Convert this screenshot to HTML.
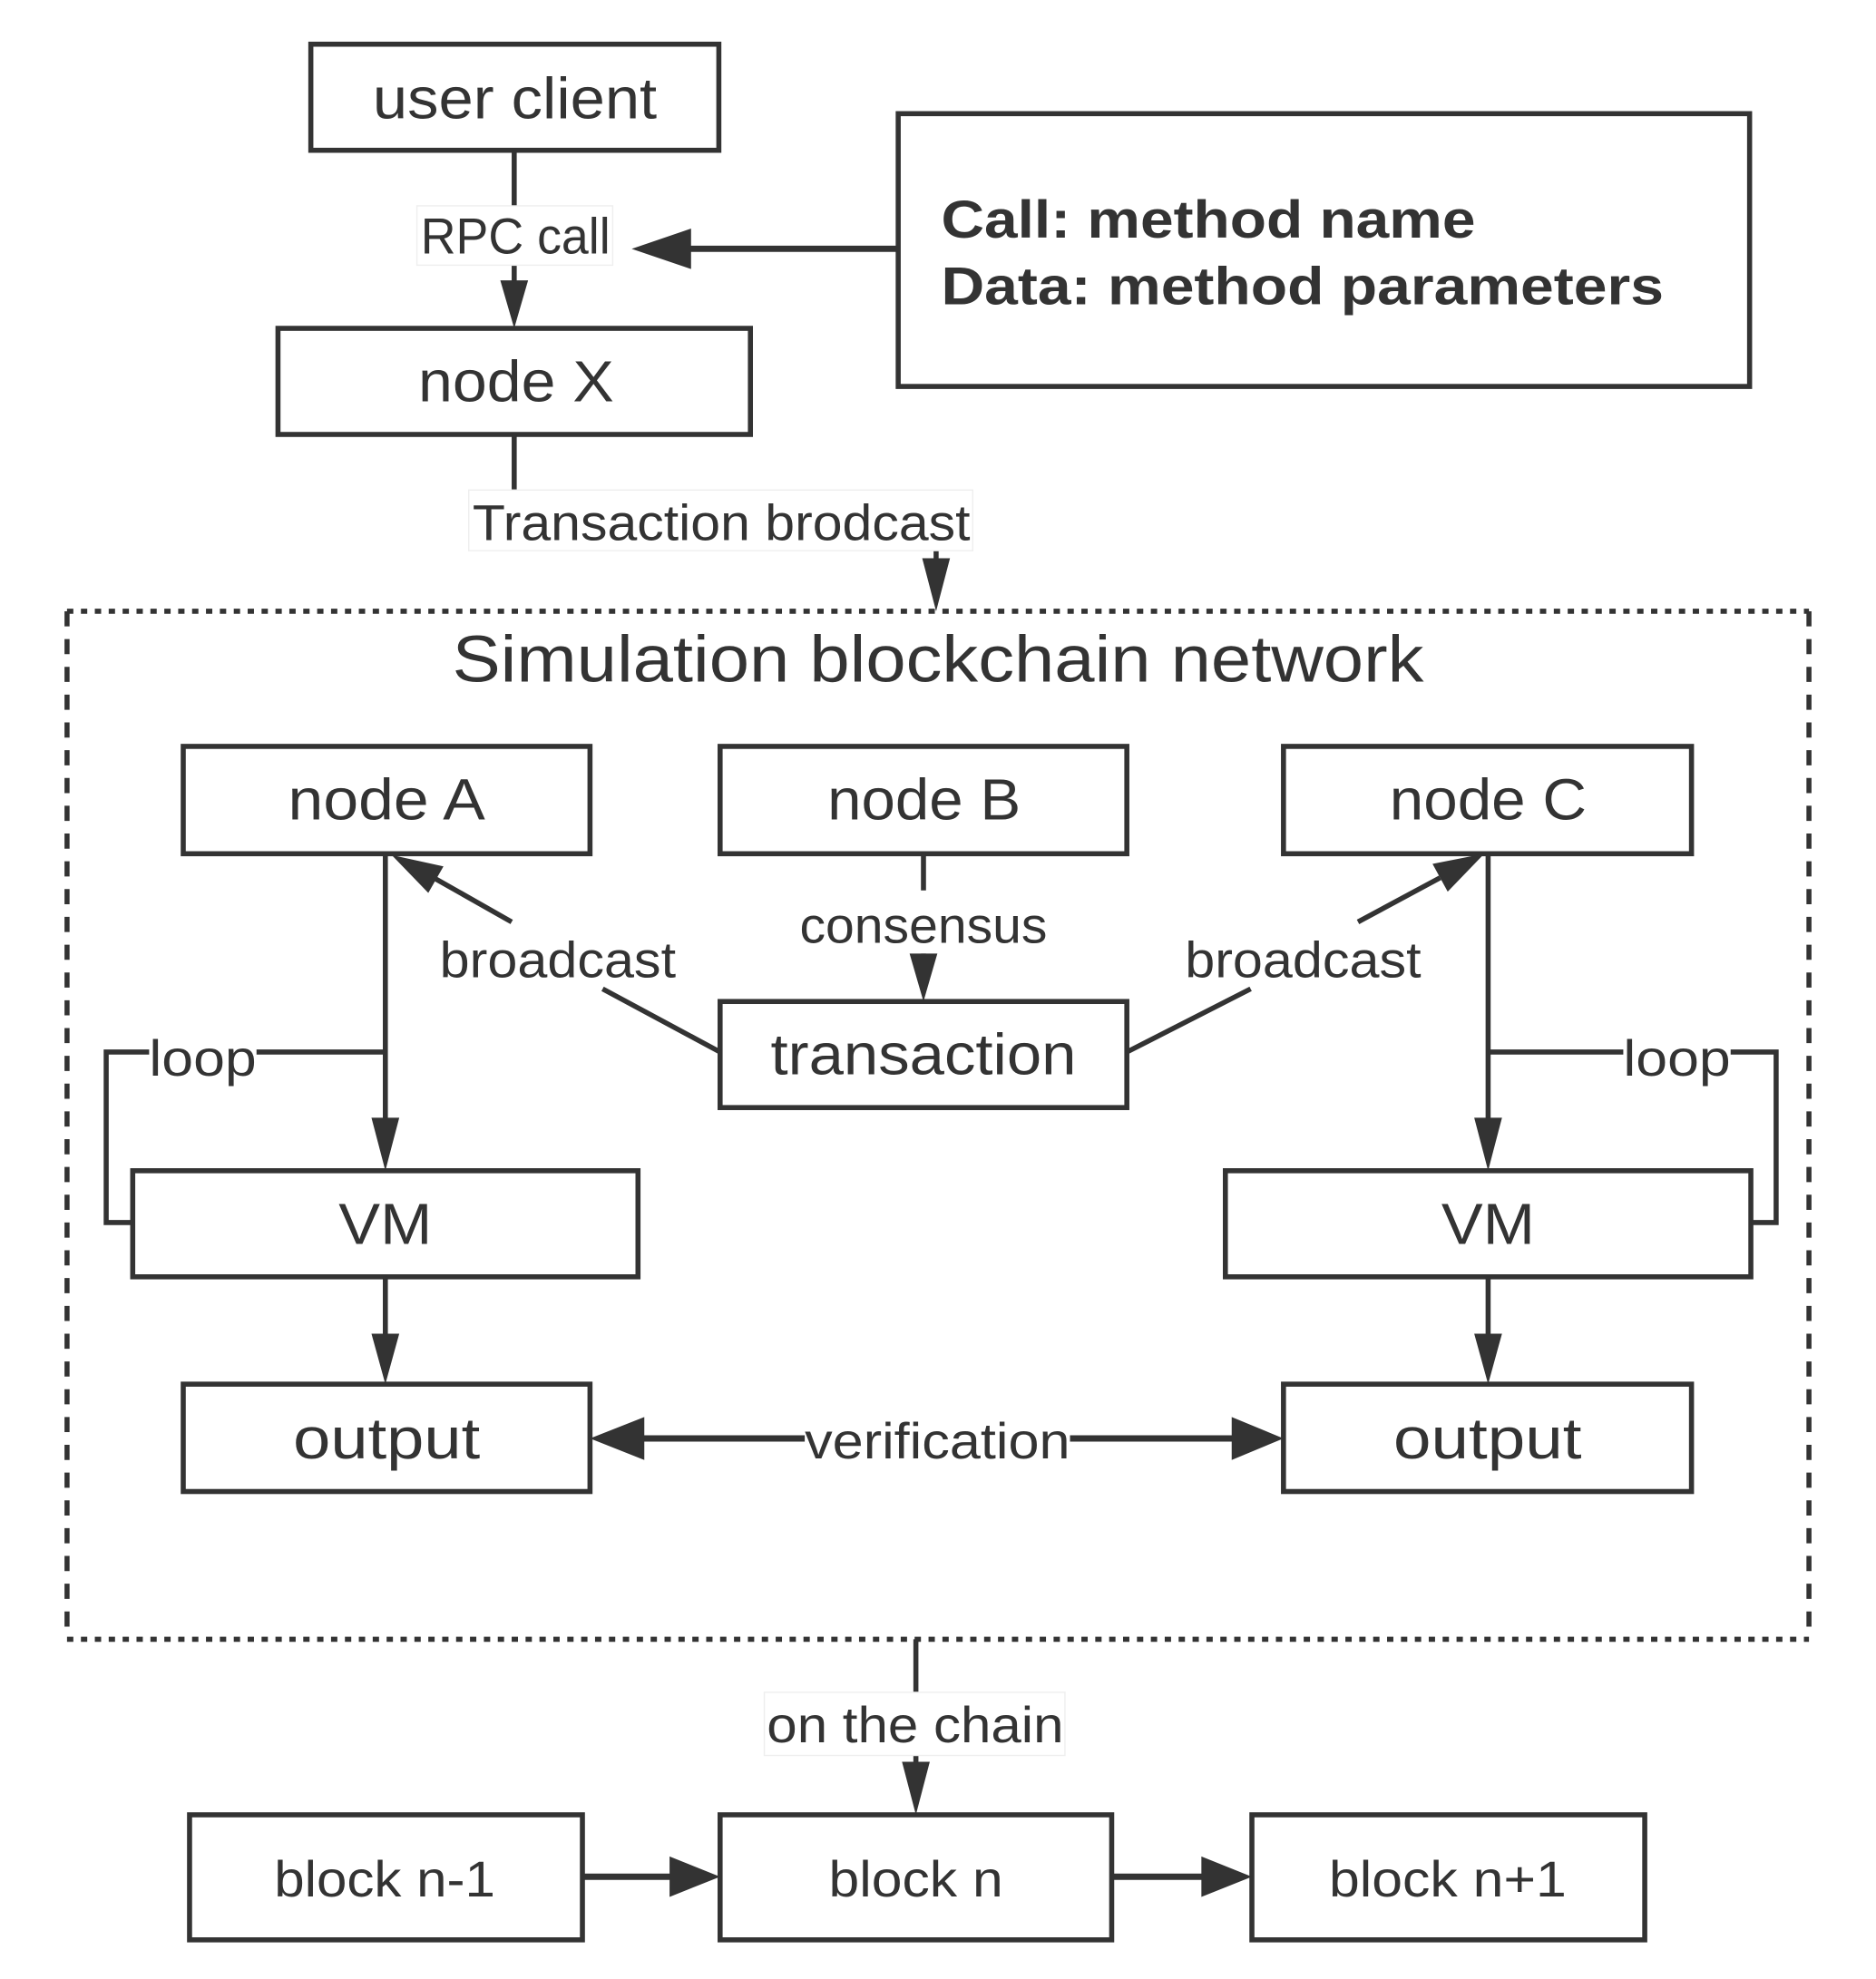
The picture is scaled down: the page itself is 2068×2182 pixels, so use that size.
<!DOCTYPE html>
<html><head><meta charset="utf-8"><style>
html,body{margin:0;padding:0;background:#fff;}
svg{display:block;}
text{font-family:"Liberation Sans",sans-serif;fill:#333;dominant-baseline:central;text-anchor:start;}
</style></head><body>
<svg width="2068" height="2182" viewBox="0 0 1485 1567" xmlns="http://www.w3.org/2000/svg">
<g fill="none" stroke="#333" stroke-width="4">
<rect x="246" y="35" width="323" height="84"/>
<rect x="220" y="260" width="374" height="84"/>
<rect x="711" y="90" width="674" height="216"/>
<rect x="145" y="591" width="322" height="85"/>
<rect x="570" y="591" width="322" height="85"/>
<rect x="1016" y="591" width="323" height="85"/>
<rect x="570" y="793" width="322" height="84"/>
<rect x="105" y="927" width="400" height="84"/>
<rect x="970" y="927" width="416" height="84"/>
<rect x="145" y="1096" width="322" height="85"/>
<rect x="1016" y="1096" width="323" height="85"/>
<rect x="150" y="1437" width="311" height="99"/>
<rect x="570" y="1437" width="310" height="99"/>
<rect x="991" y="1437" width="311" height="99"/>
<path d="M53 484 H1432 M53 1298 H1432" stroke-dasharray="5 6"/>
<path d="M53 484 V1298 M1432 484 V1298" stroke-dasharray="12 10"/>
<path d="M407 119 V165 M407 210 V225"/>
<path d="M711 197 H540" stroke-width="5"/>
<path d="M407 344 V388"/>
<path d="M741 436 V445"/>
<path d="M731 676 V705 M731 755 V760"/>
<path d="M570 833 L477 783 M405 730 L345 696"/>
<path d="M892 833 L990 783 M1075 730 L1140 695"/>
<path d="M305 676 V890 M1178 676 V890"/>
<path d="M305 833 H203 M118 833 H84 V968 H105" />
<path d="M1178 833 H1285 M1370 833 H1406 V968 H1386"/>
<path d="M305 1011 V1060 M1178 1011 V1060"/>
<path d="M505 1139 H637 M847 1139 H980" stroke-width="5"/>
<path d="M725 1298 V1340 M725 1390 V1400"/>
<path d="M461 1486 H535 M880 1486 H955" stroke-width="5"/>
</g>
<g fill="#333">
<polygon points="407,260 396,222 418,222"/>
<polygon points="500,197 547,181 547,213"/>
<polygon points="741,484 730,442 752,442"/>
<polygon points="731,793 720,755 742,755"/>
<polygon points="310,677 351,686 339,707"/>
<polygon points="1175,676 1146,706 1134,684"/>
<polygon points="305,927 294,885 316,885"/>
<polygon points="1178,927 1167,885 1189,885"/>
<polygon points="305,1096 294,1056 316,1056"/>
<polygon points="1178,1096 1167,1056 1189,1056"/>
<polygon points="467,1139 510,1122 510,1156"/>
<polygon points="1016,1139 975,1122 975,1156"/>
<polygon points="725,1437 714,1395 736,1395"/>
<polygon points="570,1486 530,1470 530,1502"/>
<polygon points="991,1486 951,1470 951,1502"/>
</g>
<g fill="#fff" stroke="#eee" stroke-width="1">
<rect x="330" y="163" width="155" height="47"/>
<rect x="371" y="388" width="399" height="48"/>
<rect x="605" y="1340" width="238" height="50"/>
</g>
<g font-size="46">
<text x="295" y="78" textLength="225" lengthAdjust="spacingAndGlyphs">user client</text>
<text x="331" y="302" textLength="155" lengthAdjust="spacingAndGlyphs">node X</text>
<text x="228" y="633" textLength="156" lengthAdjust="spacingAndGlyphs">node A</text>
<text x="655" y="633" textLength="153" lengthAdjust="spacingAndGlyphs">node B</text>
<text x="1100" y="633" textLength="156" lengthAdjust="spacingAndGlyphs">node C</text>
<text x="610" y="835" textLength="242" lengthAdjust="spacingAndGlyphs">transaction</text>
<text x="268" y="969" textLength="74" lengthAdjust="spacingAndGlyphs">VM</text>
<text x="1141" y="969" textLength="74" lengthAdjust="spacingAndGlyphs">VM</text>
<text x="232" y="1139" textLength="148" lengthAdjust="spacingAndGlyphs">output</text>
<text x="1103" y="1139" textLength="149" lengthAdjust="spacingAndGlyphs">output</text>
</g>
<g font-size="40">
<text x="217" y="1488" textLength="175" lengthAdjust="spacingAndGlyphs">block n-1</text>
<text x="656" y="1488" textLength="138" lengthAdjust="spacingAndGlyphs">block n</text>
<text x="1052" y="1488" textLength="188" lengthAdjust="spacingAndGlyphs">block n+1</text>
<text x="333" y="187" textLength="150" lengthAdjust="spacingAndGlyphs">RPC call</text>
<text x="374" y="414" textLength="394" lengthAdjust="spacingAndGlyphs">Transaction brodcast</text>
<text x="633" y="733" textLength="196" lengthAdjust="spacingAndGlyphs">consensus</text>
<text x="348" y="760" textLength="187" lengthAdjust="spacingAndGlyphs">broadcast</text>
<text x="938" y="760" textLength="187" lengthAdjust="spacingAndGlyphs">broadcast</text>
<text x="118" y="838" textLength="85" lengthAdjust="spacingAndGlyphs">loop</text>
<text x="1285" y="838" textLength="85" lengthAdjust="spacingAndGlyphs">loop</text>
<text x="637" y="1141" textLength="210" lengthAdjust="spacingAndGlyphs">verification</text>
<text x="607" y="1366" textLength="235" lengthAdjust="spacingAndGlyphs">on the chain</text>
</g>
<text x="358" y="522" font-size="52" textLength="769" lengthAdjust="spacingAndGlyphs">Simulation blockchain network</text>
<g font-size="42" font-weight="bold">
<text x="745" y="174" textLength="423" lengthAdjust="spacingAndGlyphs">Call:  method name</text>
<text x="745" y="227" textLength="572" lengthAdjust="spacingAndGlyphs">Data:  method parameters</text>
</g>
</svg>
</body></html>
